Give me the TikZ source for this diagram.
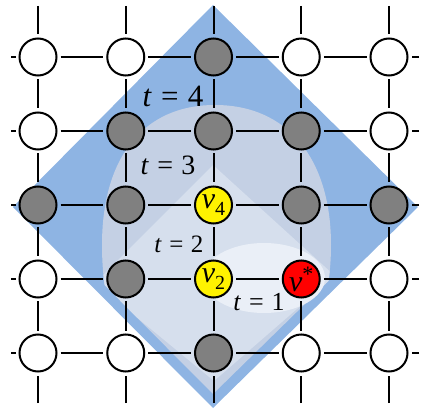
\documentclass[tikz,border=0pt]{standalone}
\usepackage{fontspec}
\setmainfont{Liberation Serif}
\newcommand{\varsp}{0.3em}
\newcommand{\hoplab}[1]{\textit{t}\hspace{\varsp}=\hspace{\varsp}#1}
\definecolor{myblue}{RGB}{142,180,227}
\definecolor{mythree}{RGB}{196,208,228}
\definecolor{mytwo}{RGB}{214,223,237}
\definecolor{myone}{RGB}{234,239,247}
\definecolor{mygray}{RGB}{128,128,128}
\tikzset{
  vertex/.style={circle, draw=black, line width=2pt, minimum size=37pt, inner sep=0pt, fill=white},
  visited/.style={vertex, fill=mygray},
  sensor/.style={vertex, fill=yellow, font=\fontsize{30}{30}\selectfont},
  source/.style={vertex, fill=red, font=\fontsize{30}{30}\selectfont},
  link/.style={line width=2pt, shorten <=3pt, shorten >=3pt},
  stub/.style={line width=2pt, shorten >=3pt},
  hop/.style={inner sep=0pt},
}
\begin{document}
\begin{tikzpicture}[x=1pt, y=-1pt]
\useasboundingbox (0,0) rectangle (421,409);

	% fillers
	\fill[myblue] (213,5) -- (418,207) -- (213,408) -- (13,207) -- cycle;
	\begin{scope}
		\clip (213,19) -- (404,207) -- (213,394) -- (27,207) -- cycle;
		\clip (102,245) .. controls (102,158) and (143,105) .. (215,105) .. controls (287,105) and (331,158) .. (331,245) .. controls (331,300) and (315,345) .. (280,400) -- (150,400) .. controls (115,345) and (102,300) .. (102,245) -- cycle;
		\fill[mythree] (0,0) rectangle (421,409);
		\fill[mytwo] (213,165) -- (335,276) -- (214,381) -- (95,283) -- cycle;
	\end{scope}
	\fill[myone] (264,278) ellipse [x radius=61, y radius=35];

	% vertices
	\foreach \c/\r/\kind in {0/0/vertex, 1/0/vertex, 2/0/visited, 3/0/vertex, 4/0/vertex,
		0/1/vertex, 1/1/visited, 2/1/visited, 3/1/visited, 4/1/vertex,
		0/2/visited, 1/2/visited, 3/2/visited, 4/2/visited,
		0/3/vertex, 1/3/visited, 4/3/vertex,
		0/4/vertex, 1/4/vertex, 2/4/visited, 3/4/vertex, 4/4/vertex}
		\node[\kind] (n-\c-\r) at ({38+87.75*\c}, {57+74*\r}) {};
	\node[sensor] (n-2-2) at ({38+87.75*2}, {57+74*2}) {\textit{v}\raisebox{-7pt}{\fontsize{20}{20}\selectfont 4}};
	\node[sensor] (n-2-3) at ({38+87.75*2}, {57+74*3}) {\textit{v}\raisebox{-7pt}{\fontsize{20}{20}\selectfont 2}};
	\node[source] (n-3-3) at ({38+87.75*3}, {57+74*3}) {\textit{v}\raisebox{10pt}{\fontsize{22}{22}\selectfont *}};

	% links
	\foreach \c [evaluate=\c as \cn using int(\c+1)] in {0,...,3}
		\foreach \r in {0,...,4}
			\draw[link] (n-\c-\r) -- (n-\cn-\r);
	\foreach \r [evaluate=\r as \rn using int(\r+1)] in {0,...,3}
		\foreach \c in {0,...,4}
			\draw[link] (n-\c-\r) -- (n-\c-\rn);

	% loose ends
	\foreach \c in {0,...,4} {
		\coordinate (top-\c) at ({38+87.75*\c}, 6);
		\coordinate (bot-\c) at ({38+87.75*\c}, 403);
		\draw[stub] (top-\c) -- (n-\c-0);
		\draw[stub] (bot-\c) -- (n-\c-4);
	}
	\foreach \r in {0,...,4} {
		\coordinate (lft-\r) at (11, {57+74*\r});
		\coordinate (rgt-\r) at (419, {57+74*\r});
		\draw[stub] (lft-\r) -- (n-0-\r);
		\draw[stub] (rgt-\r) -- (n-4-\r);
	}

	% hop labels
	\node[hop, font=\fontsize{31}{31}\selectfont] (lbl-4) at (173,96) {\hoplab{4}};
	\node[hop, font=\fontsize{28}{28}\selectfont] (lbl-3) at (168,165) {\hoplab{3}};
	\node[hop, font=\fontsize{25}{25}\selectfont] (lbl-2) at (179,244) {\hoplab{2}};
	\node[hop, font=\fontsize{26}{26}\selectfont] (lbl-1) at (259,302) {\hoplab{1}};

\end{tikzpicture}
\end{document}
